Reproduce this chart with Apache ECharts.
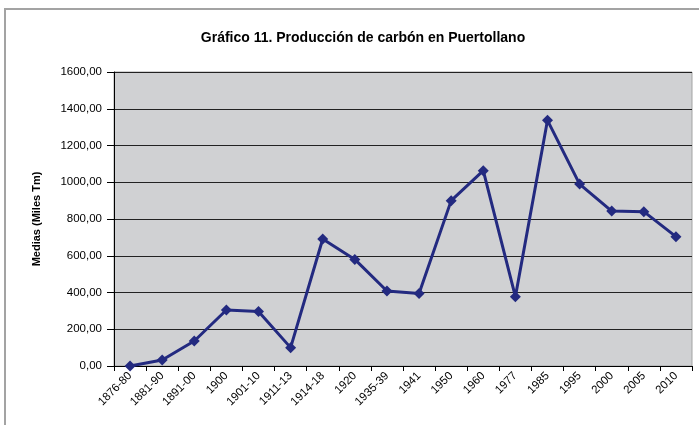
<!DOCTYPE html>
<html>
<head>
<meta charset="utf-8">
<script src="https://cdn.jsdelivr.net/npm/echarts@6/dist/echarts.min.js"></script>
<style>
  html, body { margin: 0; padding: 0; background: #fff; overflow: hidden; }
  #frame {
    position: absolute; left: 4px; top: 8px; width: 720px; height: 440px;
    border: 2px solid #a3a3a3; box-sizing: border-box;
  }
  #chart { position: absolute; left: 0; top: 0; width: 699px; height: 425px; }
</style>
</head>
<body>
<div id="frame"></div>
<div id="chart"></div>
<script>
// periodos (eje X)
var periodos = ['1876-80', '1881-90', '1891-00', '1900', '1901-10', '1911-13', '1914-18', '1920', '1935-39',
  '1941', '1950', '1960', '1977', '1985', '1995', '2000', '2005', '2010']
// medias de produccion, miles Tm
var medias = [0, 33, 136, 305, 296, 100, 691, 580, 408, 395, 900, 1063, 377, 1337, 990, 843, 840, 704]

var narrow = "'Liberation Sans Narrow', 'Arial Narrow', 'Liberation Sans', Arial, sans-serif"
var chart = echarts.init(document.getElementById('chart'))
chart.setOption({
  animation: false,
  title: {
    text: 'Gráfico 11. Producción de carbón en Puertollano',
    left: 358,
    textAlign: 'center',
    top: 26,
    textStyle: { fontFamily: narrow, fontSize: 14, fontWeight: 'bold', color: '#000' }
  },
  grid: {
    left: 114,
    right: 7,
    top: 72,
    bottom: 59,
    show: true,
    backgroundColor: '#d0d1d3',
    borderColor: '#a3a3a3',
    borderWidth: 1
  },
  xAxis: {
    type: 'category',
    data: periodos,
    boundaryGap: true,
    axisLine: { lineStyle: { color: '#000', width: 1 } },
    axisTick: { show: true, length: 5, lineStyle: { color: '#000' } },
    axisLabel: {
      interval: 0,
      rotate: 45,
      margin: 8,
      fontFamily: 'Liberation Sans, Arial, sans-serif',
      fontSize: 11.5,
      color: '#000'
    }
  },
  yAxis: {
    type: 'value',
    min: 0,
    max: 1600,
    interval: 200,
    name: 'Medias (Miles Tm)',
    nameLocation: 'middle',
    nameGap: 72,
    nameTextStyle: { fontFamily: narrow, fontSize: 11, fontWeight: 'bold', color: '#000' },
    axisLine: { show: true, lineStyle: { color: '#000', width: 1 } },
    axisTick: { show: true, length: 7, lineStyle: { color: '#000' } },
    splitLine: { lineStyle: { color: '#222', width: 1 } },
    axisLabel: {
      margin: 12,
      fontFamily: 'Liberation Sans, Arial, sans-serif',
      fontSize: 11.5,
      color: '#000',
      formatter: function (v) {
        return v.toFixed(2).replace('.', ',')
      }
    }
  },
  series: [{
    type: 'line',
    data: medias,
    symbol: 'diamond',
    symbolSize: 11,
    lineStyle: { color: '#232a80', width: 3 },
    itemStyle: { color: '#232a80' }
  }]
})
</script>
</body>
</html>
